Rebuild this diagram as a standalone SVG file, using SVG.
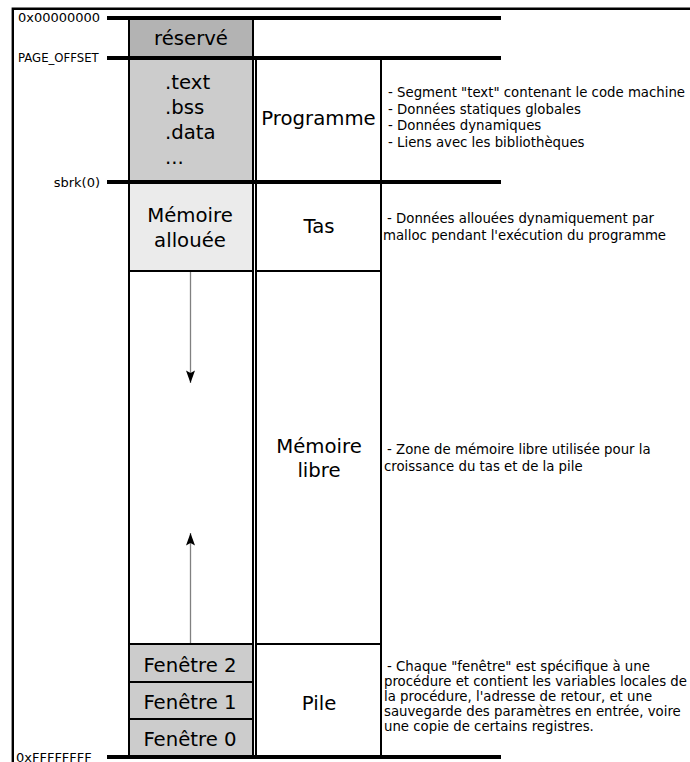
<svg xmlns="http://www.w3.org/2000/svg" width="690" height="762" viewBox="0 0 690 762">
<style>
text{font-family:"DejaVu Sans","Liberation Sans",sans-serif;fill:#000}
.big{font-size:19.7px;text-anchor:middle}
.lbl{font-size:13px}
.desc{font-size:13.3px}
.cell{stroke:#000;stroke-width:2}
.addr{stroke:#000;stroke-width:4}
.frame{stroke:#000;stroke-width:2.4;fill:none}
.grow{stroke:#808080;stroke-width:1.3;fill:none}
</style>
<defs>
<marker id="ah" viewBox="-13 -5 14 10" refX="0" refY="0" markerWidth="14" markerHeight="10" markerUnits="userSpaceOnUse" orient="auto">
<path d="M0,0 L-12.5,-4.5 L-10,0 L-12.5,4.5 Z" fill="#000"/>
</marker>
</defs>
<rect width="690" height="762" fill="#fff"/>
<path class="frame" d="M12.8,770 V8.7 H700"/>

<g id="col-left">
<g id="reserve"><rect class="cell" x="129" y="18" width="124" height="40" fill="#b3b3b3"/><text class="big" x="191" y="45">réservé</text></g>
<g id="sections"><rect class="cell" x="129" y="58" width="124" height="124" fill="#cccccc"/>
<text style="font-size:19.7px" x="165" y="89">.text</text>
<text style="font-size:19.7px" x="165" y="114">.bss</text>
<text style="font-size:19.7px" x="165" y="139">.data</text>
<text style="font-size:19.7px" x="165" y="164">...</text></g>
<g id="memoire-allouee"><rect class="cell" x="129" y="182" width="124" height="89" fill="#ebebeb"/><text class="big" x="190" y="222">Mémoire</text><text class="big" x="190" y="246.5">allouée</text></g>
<g id="libre-left"><rect class="cell" x="129" y="271" width="124" height="373" fill="#fff"/></g>
<g id="fenetre2"><rect class="cell" x="129" y="644" width="124" height="38" fill="#cccccc"/><text class="big" x="190" y="671.5">Fenêtre 2</text></g>
<g id="fenetre1"><rect class="cell" x="129" y="682" width="124" height="37" fill="#cccccc"/><text class="big" x="190" y="708.5">Fenêtre 1</text></g>
<g id="fenetre0"><rect class="cell" x="129" y="719" width="124" height="38" fill="#cccccc"/><text class="big" x="190" y="745.5">Fenêtre 0</text></g>
</g>

<g id="col-mid">
<g id="programme"><rect class="cell" x="256" y="58" width="125" height="124" fill="#fff"/><text class="big" x="318.5" y="125">Programme</text></g>
<g id="tas"><rect class="cell" x="256" y="182" width="125" height="89" fill="#fff"/><text class="big" x="319" y="233">Tas</text></g>
<g id="memoire-libre"><rect class="cell" x="256" y="271" width="125" height="373" fill="#fff"/><text class="big" x="319" y="453">Mémoire</text><text class="big" x="319" y="477">libre</text></g>
<g id="pile"><rect class="cell" x="256" y="644" width="125" height="113" fill="#fff"/><text class="big" x="319" y="710">Pile</text></g>
</g>

<g id="addresses">
<line class="addr" x1="107" y1="18" x2="501" y2="18"/>
<line class="addr" x1="107" y1="58" x2="501" y2="58"/>
<line class="addr" x1="107" y1="182" x2="501" y2="182"/>
<line class="addr" x1="107" y1="757" x2="501" y2="757"/>
<text class="lbl" x="18" y="22">0x00000000</text>
<text class="lbl" x="18" y="61.5" style="font-size:11.7px">PAGE_OFFSET</text>
<text class="lbl" x="100" y="187" text-anchor="end">sbrk(0)</text>
<text class="lbl" x="16" y="761.5">0xFFFFFFFF</text>
</g>

<g id="descriptions">
<text class="desc" x="388" y="97">- Segment "text" contenant le code machine</text>
<text class="desc" x="388" y="113.5">- Données statiques globales</text>
<text class="desc" x="388" y="130">- Données dynamiques</text>
<text class="desc" x="388" y="146.5">- Liens avec les bibliothèques</text>
<text class="desc" x="387" y="223">- Données allouées dynamiquement par</text>
<text class="desc" x="383" y="240">malloc pendant l'exécution du programme</text>
<text class="desc" x="387" y="454">- Zone de mémoire libre utilisée pour la</text>
<text class="desc" x="384" y="471">croissance du tas et de la pile</text>
<text class="desc" x="387" y="671">- Chaque "fenêtre" est spécifique à une</text>
<text class="desc" x="384" y="686">procédure et contient les variables locales de</text>
<text class="desc" x="384" y="701">la procédure, l'adresse de retour, et une</text>
<text class="desc" x="384" y="716">sauvegarde des paramètres en entrée, voire</text>
<text class="desc" x="384" y="731">une copie de certains registres.</text>
</g>

<g id="connectors">
<line class="grow" x1="190.5" y1="272" x2="190.5" y2="383" marker-end="url(#ah)"/>
<line class="grow" x1="190.5" y1="643" x2="190.5" y2="533" marker-end="url(#ah)"/>
</g>
</svg>
